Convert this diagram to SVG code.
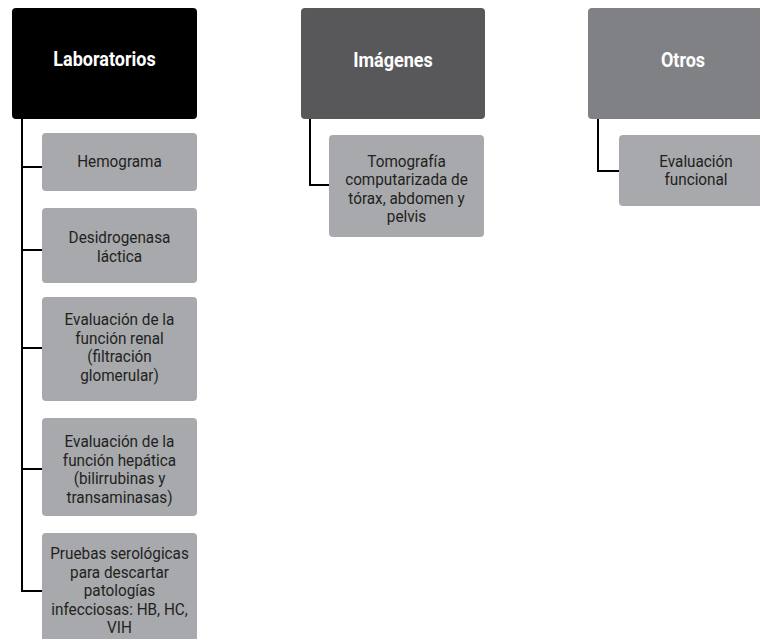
<svg xmlns="http://www.w3.org/2000/svg" width="760" height="639" viewBox="0 0 760 639">
  <style>
    .lab { fill: #000000; }
    .img { fill: #58585a; }
    .otr { fill: #808184; }
    .item { fill: #a7a9ac; }
    .htxt { font-family: Roboto, "Liberation Sans", sans-serif; font-weight: bold; font-size: 20px; fill: #ffffff; text-anchor: middle; }
    .itxt { font-family: Roboto, "Liberation Sans", sans-serif; font-size: 17px; fill: #231f20; text-anchor: middle; }
    .link { fill: none; stroke: #000000; stroke-width: 2; }
  </style>

  <!-- connectors -->
  <g id="connectors">
    <path class="link" d="M22,119 V167 H42 M22,250 H42 M22,348 H42 M22,469 H42 M22,167 V591 H42"/>
    <path class="link" d="M310,119 V185 H329"/>
    <path class="link" d="M598,119 V171 H619"/>
  </g>

  <!-- column 1 -->
  <g id="laboratorios">
    <rect class="lab" x="12" y="8" width="185" height="111" rx="4"/>
    <text class="htxt" transform="translate(104.5,66) scale(0.9,1)">Laboratorios</text>
  </g>
  <g id="hemograma">
    <rect class="item" x="42" y="133" width="155" height="58" rx="4"/>
    <text class="itxt" transform="translate(119.5,166.5) scale(0.9,1)">Hemograma</text>
  </g>
  <g id="desidrogenasa">
    <rect class="item" x="42" y="208" width="155" height="75" rx="4"/>
    <text class="itxt" transform="translate(119.5,243.3) scale(0.9,1)">Desidrogenasa</text>
    <text class="itxt" transform="translate(119.5,261.7) scale(0.9,1)">láctica</text>
  </g>
  <g id="funcion-renal">
    <rect class="item" x="42" y="297" width="155" height="104" rx="4"/>
    <text class="itxt" transform="translate(119.5,325) scale(0.9,1)">Evaluación de la</text>
    <text class="itxt" transform="translate(119.5,343.6) scale(0.9,1)">función renal</text>
    <text class="itxt" transform="translate(119.5,362.2) scale(0.9,1)">(filtración</text>
    <text class="itxt" transform="translate(119.5,380.8) scale(0.9,1)">glomerular)</text>
  </g>
  <g id="funcion-hepatica">
    <rect class="item" x="42" y="418" width="155" height="98" rx="4"/>
    <text class="itxt" transform="translate(119.5,446.7) scale(0.9,1)">Evaluación de la</text>
    <text class="itxt" transform="translate(119.5,465.5) scale(0.9,1)">función hepática</text>
    <text class="itxt" transform="translate(119.5,484.3) scale(0.9,1)">(bilirrubinas y</text>
    <text class="itxt" transform="translate(119.5,503.1) scale(0.9,1)">transaminasas)</text>
  </g>
  <g id="serologia">
    <rect class="item" x="42" y="533" width="155" height="120" rx="4"/>
    <text class="itxt" transform="translate(119.5,559.3) scale(0.9,1)">Pruebas serológicas</text>
    <text class="itxt" transform="translate(119.5,577.8) scale(0.9,1)">para descartar</text>
    <text class="itxt" transform="translate(119.5,596.3) scale(0.9,1)">patologías</text>
    <text class="itxt" transform="translate(119.5,614.8) scale(0.9,1)">infecciosas: HB, HC,</text>
    <text class="itxt" transform="translate(119.5,633.3) scale(0.9,1)">VIH</text>
  </g>

  <!-- column 2 -->
  <g id="imagenes">
    <rect class="img" x="301" y="8" width="184" height="111" rx="4"/>
    <text class="htxt" transform="translate(393,66.5) scale(0.9,1)">Imágenes</text>
  </g>
  <g id="tomografia">
    <rect class="item" x="329" y="135" width="155" height="102" rx="4"/>
    <text class="itxt" transform="translate(406.5,166.7) scale(0.9,1)">Tomografía</text>
    <text class="itxt" transform="translate(406.5,185.2) scale(0.9,1)">computarizada de</text>
    <text class="itxt" transform="translate(406.5,203.7) scale(0.9,1)">tórax, abdomen y</text>
    <text class="itxt" transform="translate(406.5,222.2) scale(0.9,1)">pelvis</text>
  </g>

  <!-- column 3 -->
  <g id="otros">
    <rect class="otr" x="588" y="8" width="185" height="111" rx="4"/>
    <text class="htxt" transform="translate(683,66.5) scale(0.9,1)">Otros</text>
  </g>
  <g id="evaluacion-funcional">
    <rect class="item" x="619" y="135" width="155" height="71" rx="4"/>
    <text class="itxt" transform="translate(696,166.7) scale(0.9,1)">Evaluación</text>
    <text class="itxt" transform="translate(696,185.2) scale(0.9,1)">funcional</text>
  </g>
</svg>
